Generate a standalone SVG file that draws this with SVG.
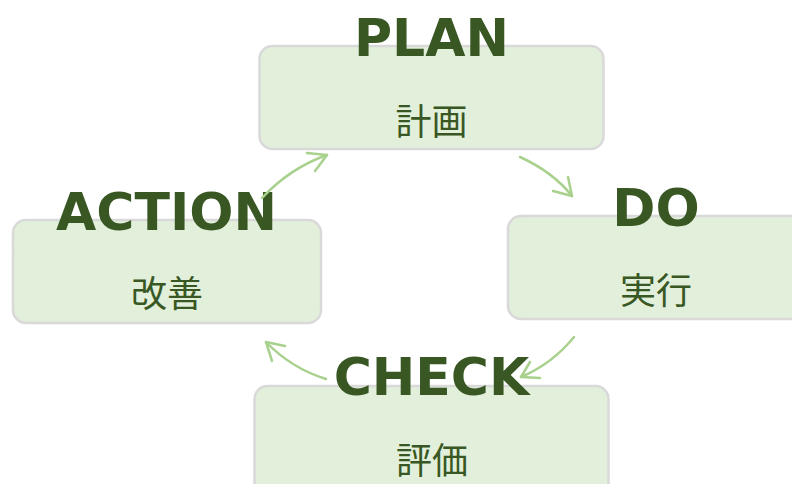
<svg xmlns="http://www.w3.org/2000/svg" width="792" height="484" viewBox="0 0 792 484">
<style>
.box{fill:#e2efda;stroke:#d9d9d9;stroke-width:2.5}
.en{font-family:"DejaVu Sans",Verdana,sans-serif;font-weight:bold;font-size:52px;fill:#385723;text-anchor:middle}
.jp{font-family:"Noto Sans CJK JP",sans-serif;font-size:36px;fill:#385723;text-anchor:middle}
.arr{fill:none;stroke:#a9d18e;stroke-width:2.5;stroke-linecap:round;stroke-linejoin:round}
</style>
<rect width="792" height="484" fill="#ffffff"/>
<g id="plan">
<rect class="box" x="259.5" y="46" width="344" height="103" rx="13"/>
<text class="en" x="431.5" y="56">PLAN</text>
<text class="jp" x="431.5" y="135">計画</text>
</g>
<g id="do">
<rect class="box" x="508" y="216" width="310" height="103" rx="13"/>
<text class="en" x="656" y="226">DO</text>
<text class="jp" x="656" y="304">実行</text>
</g>
<g id="check">
<rect class="box" x="254.5" y="386" width="354" height="110" rx="13"/>
<text class="en" x="431.5" y="395">CHECK</text>
<text class="jp" x="432" y="474">評価</text>
</g>
<g id="action">
<rect class="box" x="13" y="220" width="308" height="103" rx="13"/>
<text class="en" x="166.5" y="230">ACTION</text>
<text class="jp" x="167" y="307">改善</text>
</g>
<g id="connectors">
<path class="arr" d="M520,157 Q553,172 572,196"/>
<path class="arr" d="M553,191 L572,196 L568,177"/>
<path class="arr" d="M574,337 Q552,364 521,377"/>
<path class="arr" d="M530,362 L521,377 L540,378"/>
<path class="arr" d="M326,379 Q291,368 266,342"/>
<path class="arr" d="M285,346 L266,342 L272,361"/>
<path class="arr" d="M262,198 Q290,168 327,155"/>
<path class="arr" d="M307,153 L327,155 L315,171"/>
</g>
</svg>
